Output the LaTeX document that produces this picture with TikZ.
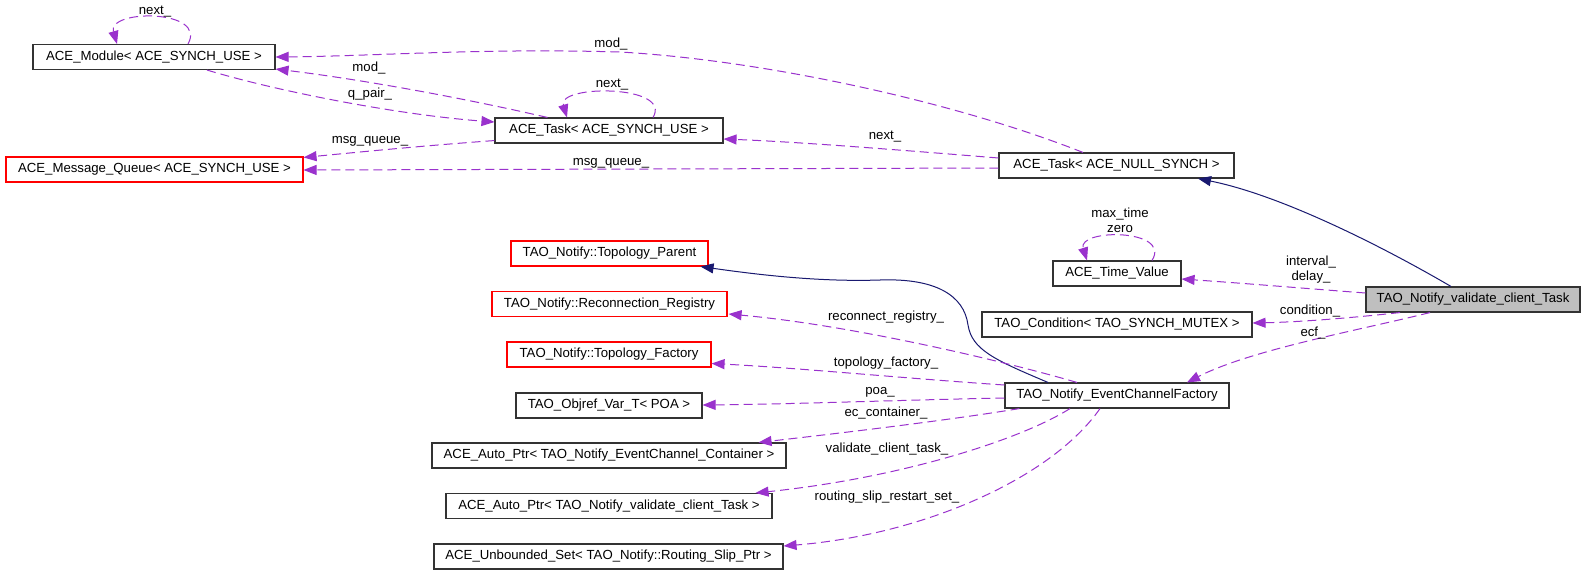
\documentclass[tikz,border=0pt]{standalone}
\usepackage{fontspec}
\setmainfont{Liberation Sans}
\usetikzlibrary{arrows.meta,calc}
\definecolor{purp}{HTML}{9A32CD}
\definecolor{navy}{HTML}{191970}
\definecolor{boxgray}{HTML}{BFBFBF}
\newcommand\dfont{\fontsize{13.2}{15}\selectfont}
\tikzset{
  cls/.style={draw=black!80, line width=1.1pt, minimum height=25pt, inner sep=0pt, font=\dfont, fill=white},
  redcls/.style={cls, draw=red},
  refedge/.style={draw=purp, dash pattern=on 9pt off 5pt, line width=1pt, -{Triangle[length=13pt,width=10pt]}},
  inhedge/.style={draw=navy, line width=1pt, -{Triangle[length=13pt,width=10pt]}},
  lbl/.style={font=\dfont, inner sep=0pt, align=center}
}
\begin{document}
\begin{tikzpicture}[x=1pt,y=-1pt]
\fill[white] (0,0) rectangle (1589,576);
\useasboundingbox (0,0) rectangle (1589,576);

% nodes
\node[cls, minimum width=242pt] (mod) at (154,57) {ACE\_Module< ACE\_SYNCH\_USE >};
\node[redcls, minimum width=297pt] (mq) at (154.5,169.5) {ACE\_Message\_Queue< ACE\_SYNCH\_USE >};
\node[cls, minimum width=228pt] (tsync) at (609,130.5) {ACE\_Task< ACE\_SYNCH\_USE >};
\node[cls, minimum width=235pt] (tnull) at (1116.5,165.5) {ACE\_Task< ACE\_NULL\_SYNCH >};
\node[cls, minimum width=128pt] (tv) at (1117,273.5) {ACE\_Time\_Value};
\node[cls, fill=boxgray, minimum width=214pt] (vt) at (1473,299.5) {TAO\_Notify\_validate\_client\_Task};
\node[cls, minimum width=270pt] (cond) at (1117,324.5) {TAO\_Condition< TAO\_SYNCH\_MUTEX >};
\node[redcls, minimum width=197pt] (tp) at (609.5,253.5) {TAO\_Notify::Topology\_Parent};
\node[redcls, minimum width=235pt] (rr) at (609.5,304) {TAO\_Notify::Reconnection\_Registry};
\node[redcls, minimum width=204pt] (tf) at (609,354.5) {TAO\_Notify::Topology\_Factory};
\node[cls, minimum width=186pt] (ov) at (609,405.5) {TAO\_Objref\_Var\_T< POA >};
\node[cls, minimum width=224pt] (ecf) at (1117,395.5) {TAO\_Notify\_EventChannelFactory};
\node[cls, minimum width=354pt] (ape) at (609,455.5) {ACE\_Auto\_Ptr< TAO\_Notify\_EventChannel\_Container >};
\node[cls, minimum width=326pt] (apv) at (609,506) {ACE\_Auto\_Ptr< TAO\_Notify\_validate\_client\_Task >};
\node[cls, minimum width=349pt] (us) at (608.5,556.5) {ACE\_Unbounded\_Set< TAO\_Notify::Routing\_Slip\_Ptr >};

% self loops
\draw[refedge] ($(mod.north)+(34,0)$) .. controls +(20,-35) and +(-10,-35) .. ($(mod.north)+(-37,0)$);
\node[lbl] (l_modnext) at (155,12) {next\_};
\draw[refedge] ($(tsync.north)+(44,0)$) .. controls +(20,-33) and +(-10,-33) .. ($(tsync.north)+(-42,0)$);
\node[lbl] (l_tsnext) at (612,85) {next\_};
\draw[refedge] ($(tv.north)+(35,0)$) .. controls +(20,-32) and +(-10,-32) .. ($(tv.north)+(-30,0)$);
\node[lbl] (l_tv) at (1120,220) {max\_time\\zero};

% edges to ACE_Module
\draw[refedge] ($(tnull.north)+(-33.5,0)$) .. controls (950,100) and (760,60) .. (620,52) .. controls (480,48) and (380,56) .. (mod.east);
\node[lbl] (l_mod1) at (611,44) {mod\_};
\draw[refedge] ($(tsync.north west)+(53,0)$) .. controls (450,95) and (350,78) .. ($(mod.south east)+(0,-1)$);
\node[lbl] (l_mod2) at (369,68) {mod\_};
\draw[refedge] ($(mod.south)+(53,0)$) .. controls (280,92) and (400,115) .. ($(tsync.west)+(0,-8.5)$);
\node[lbl] (l_qpair) at (370,94) {q\_pair\_};

% message queue
\draw[refedge] ($(tsync.south west)+(0,-3)$) .. controls (420,146) and (360,152) .. ($(mq.north east)+(0,1)$);
\node[lbl] (l_mq1) at (370,141) {msg\_queue\_};
\draw[refedge] ($(tnull.west)+(0,2.5)$) -- ($(mq.east)+(0,0.5)$);
\node[lbl] (l_mq2) at (611,163) {msg\_queue\_};

% next_ null -> sync
\draw[refedge] ($(tnull.west)+(0,-7.5)$) .. controls (900,150) and (800,142) .. ($(tsync.east)+(0,8.5)$);
\node[lbl] (l_next) at (885,137) {next\_};

% inheritance validate -> ACE_Task NULL
\draw[inhedge] ($(vt.north)+(-22,0)$) .. controls (1380,245) and (1280,195) .. ($(tnull.south)+(81.5,0)$);

% validate -> time value
\draw[refedge] ($(vt.west)+(0,-6.5)$) .. controls (1300,288) and (1240,283) .. ($(tv.east)+(0,5.5)$);
\node[lbl] (l_tv2) at (1311,270) {interval\_\\delay\_};

% validate -> condition
\draw[refedge] ($(vt.south)+(-73,0)$) .. controls (1350,318) and (1300,322) .. ($(cond.east)+(0,-1.5)$);
\node[lbl] (l_cond) at (1310,311) {condition\_};

% validate -> ecf
\draw[refedge] ($(vt.south)+(-43,0)$) .. controls (1360,330) and (1250,350) .. ($(ecf.north)+(70,0)$);
\node[lbl] (l_ecf) at (1313,333) {ecf\_};

% ecf -> topology parent (inheritance)
\draw[inhedge] ($(ecf.north)+(-69,0)$) .. controls (995,360) and (972,350) .. (968,325) .. controls (964,295) and (935,278) .. (880,280) .. controls (820,282) and (760,275) .. ($(tp.south east)+(-8,0)$);

% ecf -> others
\draw[refedge] ($(ecf.north)+(-40,0)$) .. controls (1000,360) and (850,325) .. ($(rr.east)+(1,10)$);
\node[lbl] (l_rr) at (886,317) {reconnect\_registry\_};
\draw[refedge] ($(ecf.west)+(0,-10.5)$) .. controls (900,378) and (800,368) .. ($(tf.east)+(0,9)$);
\node[lbl] (l_tf) at (886,363) {topology\_factory\_};
\draw[refedge] ($(ecf.west)+(0,2.5)$) .. controls (900,400) and (800,404) .. ($(ov.east)+(0,-0.5)$);
\node[lbl] (l_poa) at (880,392) {poa\_};
\draw[refedge] ($(ecf.south west)+(15,0)$) .. controls (950,420) and (850,432) .. ($(ape.north east)+(-28,0)$);
\node[lbl] (l_ape) at (886,413) {ec\_container\_};
\draw[refedge] ($(ecf.south)+(-47,0)$) .. controls (1020,440) and (900,478) .. ($(apv.north east)+(-17,0)$);
\node[lbl] (l_apv) at (887,449) {validate\_client\_task\_};
\draw[refedge] ($(ecf.south)+(-17,0)$) .. controls (1050,480) and (920,535) .. ($(us.east)+(0,-10.5)$);
\node[lbl] (l_us) at (887,497) {routing\_slip\_restart\_set\_};
\end{tikzpicture}
\end{document}
